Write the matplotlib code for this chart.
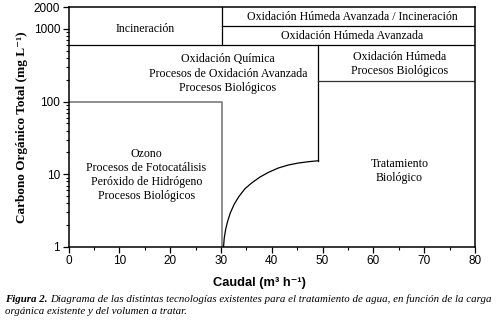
import matplotlib
matplotlib.use("Agg")
import matplotlib.pyplot as plt
from matplotlib.ticker import LogLocator, NullFormatter

# ---- data ----
x_ticks = [0, 10, 20, 30, 40, 50, 60, 70, 80]
x_minor_ticks = [5, 15, 25, 35, 45, 55, 65, 75]
y_ticks = [1, 10, 100, 1000, 2000]
y_tick_labels = ["1", "10", "100", "1000", "2000"]

x_low_split = 30.3      # boundary between low-flow and mid-flow regions
x_high_split = 49.2     # boundary between mid-flow and high-flow regions
x_max = 80
y_min, y_max = 1, 2000
y_incin = 600           # incineration boundary
y_top_split = 1100      # split in upper right
y_low_box = 100         # top of ozone box
y_right_split = 190     # split in right column

curve_x = [30.51, 30.65, 30.91, 31.30, 31.83, 32.62, 33.54, 34.72, 36.02,
           37.68, 39.31, 41.28, 43.25, 45.22, 47.19, 49.2]
curve_y = [1.0, 1.32, 1.72, 2.23, 2.92, 3.88, 4.94, 6.31, 7.56,
           9.15, 10.59, 12.18, 13.40, 14.27, 14.87, 15.36]

labels = [
    ("Incineración", 15.2, 1000),
    ("Oxidación Húmeda Avanzada / Incineración", 55.8, 1480),
    ("Oxidación Húmeda Avanzada", 55.8, 810),
    ("Oxidación Química\nProcesos de Oxidación Avanzada\nProcesos Biológicos", 31.4, 243),
    ("Oxidación Húmeda\nProcesos Biológicos", 65.2, 333),
    ("Ozono\nProcesos de Fotocatálisis\nPeróxido de Hidrógeno\nProcesos Biológicos", 15.3, 9.8),
    ("Tratamiento\nBiológico", 65.1, 11.2),
]

serif = ["Liberation Serif", "DejaVu Serif"]
sans = ["Liberation Sans", "DejaVu Sans"]

fig = plt.figure(figsize=(5.0, 3.24), dpi=100)
ax = fig.add_axes([0.137, 0.238, 0.813, 0.740])
ax.set_yscale("log")
ax.set_xlim(0, x_max)
ax.set_ylim(y_min, y_max)

black = "black"
gray = "#707070"
lw = 0.9

# region boundaries
ax.plot([0, x_max], [y_incin, y_incin], color=black, lw=lw)
ax.plot([x_low_split, x_low_split], [y_incin, y_max], color=black, lw=lw)
ax.plot([x_low_split, x_max], [y_top_split, y_top_split], color=black, lw=lw)
ax.plot([x_high_split, x_high_split], [curve_y[-1], y_incin], color=black, lw=lw)
ax.plot([x_high_split, x_max], [y_right_split, y_right_split], color="#333333", lw=lw)
ax.plot([0, x_low_split, x_low_split], [y_low_box, y_low_box, y_min], color=gray, lw=1.1)
ax.plot(curve_x, curve_y, color=black, lw=lw, solid_joinstyle="round")

for txt, x, y in labels:
    ax.text(x, y, txt, ha="center", va="center", family=serif, fontsize=8.6,
            linespacing=1.25)

# ticks
ax.set_xticks(x_ticks)
ax.set_xticks(x_minor_ticks, minor=True)
ax.set_yticks(y_ticks)
ax.set_yticklabels(y_tick_labels)
ax.yaxis.set_minor_locator(LogLocator(base=10, subs=[2, 3, 4, 5, 6, 7, 8, 9], numticks=20))
ax.yaxis.set_minor_formatter(NullFormatter())
ax.tick_params(axis="both", which="major", direction="out", length=4, width=0.9,
               labelsize=8.5, pad=2)
ax.tick_params(axis="both", which="minor", direction="out", length=2.5, width=0.8)
for lab in ax.get_xticklabels() + ax.get_yticklabels():
    lab.set_family(sans)
for sp in ax.spines.values():
    sp.set_linewidth(1.1)
    sp.set_color("black")

ax.set_xlabel("Caudal (m³ h⁻¹)", family=sans, fontweight="bold", fontsize=9.3)
ax.xaxis.label.set_verticalalignment("center")
ax.xaxis.set_label_coords(0.469, -0.15)
ax.set_ylabel("Carbono Orgánico Total (mg L⁻¹)", family=serif, fontweight="bold",
              fontsize=9.5, labelpad=4)

# caption
fig.canvas.draw()
r = fig.canvas.get_renderer()
cap_size = 7.8
t1 = fig.text(0.010, 1 - 299 / 324, "Figura 2.", family=serif, style="italic",
              fontweight="bold", fontsize=cap_size, va="center", ha="left")
bb = t1.get_window_extent(renderer=r)
fig.text(bb.x1 / fig.bbox.width + 0.005, 1 - 299 / 324,
         "Diagrama de las distintas tecnologías existentes para el tratamiento de agua, en función de la carga",
         family=serif, style="italic", fontsize=cap_size, va="center", ha="left")
fig.text(0.010, 1 - 312 / 324, "orgánica existente y del volumen a tratar.",
         family=serif, style="italic", fontsize=cap_size, va="center", ha="left")

fig.savefig("out.png", dpi=100)
